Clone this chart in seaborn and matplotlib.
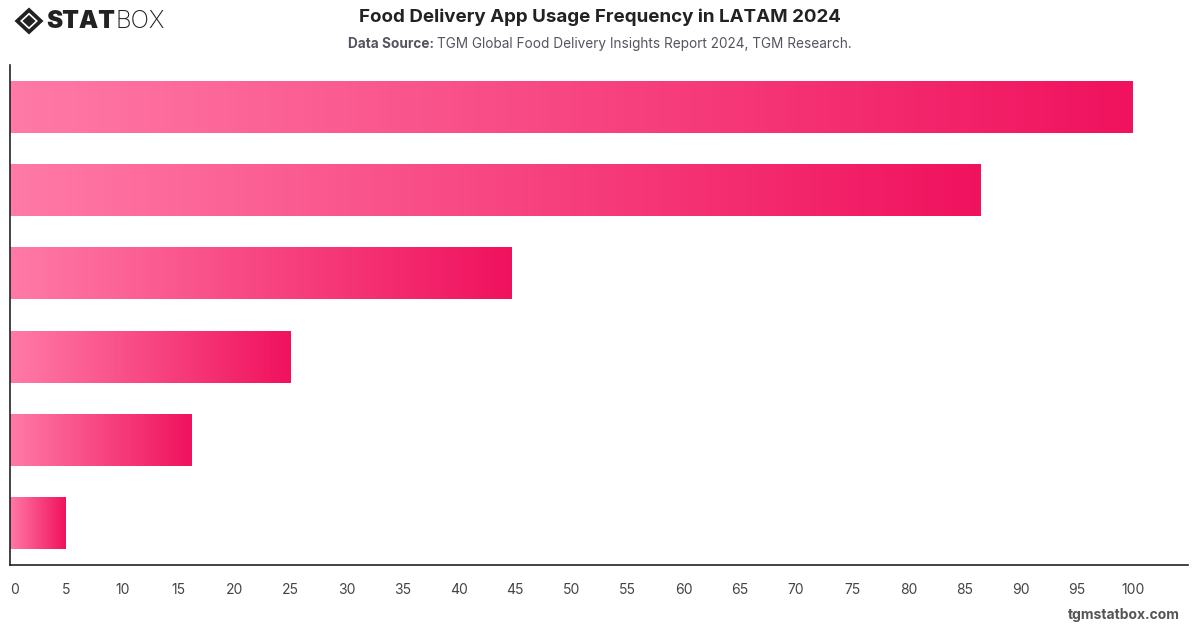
import numpy as np
import pandas as pd
import matplotlib
matplotlib.use("Agg")
import matplotlib.pyplot as plt
import seaborn as sns
from matplotlib.colors import LinearSegmentedColormap
from matplotlib.patches import Polygon

categories = ["Several times a week", "Once a week", "2-3 times a month",
              "Once a month", "Less than once a month", "Never"]
values = [100, 86.4, 44.7, 25.0, 16.2, 4.9]
xticks = list(range(0, 105, 5))

sns.set_theme(style="white")
plt.rcParams['font.family'] = ['Inter', 'DejaVu Sans']

fig = plt.figure(figsize=(12, 6.28), dpi=100)
ax = fig.add_axes([10/1200, 1-565/628, 1178/1200, 500/628])

df = pd.DataFrame({"cat": categories, "val": values})
sns.barplot(data=df, y="cat", x="val", orient="h", ax=ax, width=0.625,
            color="#F0145F", saturation=1)

cmap = LinearSegmentedColormap.from_list("g", ["#FF7AA6", "#F0125E"])
grad = np.linspace(0, 1, 256).reshape(1, -1)
for p in ax.patches:
    x0, y0 = p.get_x(), p.get_y()
    w, h = p.get_width(), p.get_height()
    im = ax.imshow(grad, cmap=cmap, aspect="auto",
                   extent=[x0, x0 + w, y0 + h, y0], zorder=p.get_zorder() + 0.1)
    im.set_clip_path(p)
    p.set_edgecolor("none")

ax.set_xlim(0, 104.9)
ax.set_ylim(5.5, -0.5)
ax.set_xticks(xticks)
ax.set_xticklabels([str(t) for t in xticks], fontsize=10, color="#444444")
ax.set_yticks([])
ax.set_xlabel("")
ax.set_ylabel("")
ax.tick_params(axis="x", length=0, pad=13)
ax.get_xticklabels()[0].set_ha("left")
for s in ["top", "right"]:
    ax.spines[s].set_visible(False)
for s in ["left", "bottom"]:
    ax.spines[s].set_color("#222222")
    ax.spines[s].set_linewidth(1.2)

fig.text(0.5, 1-17/628, "Food Delivery App Usage Frequency in LATAM 2024",
         ha="center", va="center", fontsize=13.5, fontweight="bold", color="#222222")
t1 = fig.text(0.5, 1-44/628, "Data Source: ", ha="right", va="center",
              fontsize=9.8, fontweight="bold", color="#555560")
fig.canvas.draw()
r = fig.canvas.get_renderer()
bb1 = t1.get_window_extent(r)
t2 = fig.text(0.5, 1-44/628, "TGM Global Food Delivery Insights Report 2024, TGM Research.",
              ha="left", va="center", fontsize=9.8, color="#555560")
bb2 = t2.get_window_extent(r)
total = bb1.width + bb2.width
start = 600 - total/2
t1.set_ha("left"); t1.set_x(start / 1200)
t2.set_x((start + bb1.width) / 1200)

# logo
cx, cy = 29/1200, 1-21/628
dx, dy = 14.5/1200, 13.5/628
def diamond(scale, color):
    fig.patches.append(Polygon([[cx-dx*scale, cy], [cx, cy+dy*scale],
                                [cx+dx*scale, cy], [cx, cy-dy*scale]],
                               closed=True, transform=fig.transFigure,
                               facecolor=color, edgecolor="none"))
diamond(1.0, "#222222")
diamond(0.62, "white")
diamond(0.45, "#222222")
ts = fig.text(46/1200, cy, "STAT", ha="left", va="center", fontsize=17.5,
              fontweight="black", color="#222222")
fig.canvas.draw()
bbs = ts.get_window_extent(fig.canvas.get_renderer())
fig.text((bbs.x1 + 1)/1200, cy, "BOX", ha="left", va="center", fontsize=17.5,
         fontweight="light", color="#222222")

fig.text(1180/1200, 1-615/628, "tgmstatbox.com", ha="right", va="center",
         fontsize=10, fontweight="bold", color="#555555")

fig.savefig("out.png", dpi=100)
